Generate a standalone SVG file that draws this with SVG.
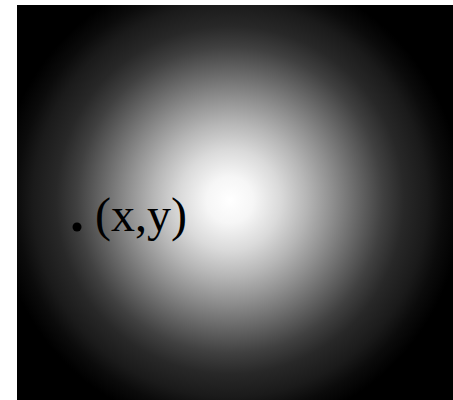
<svg xmlns="http://www.w3.org/2000/svg" width="453" height="400" viewBox="0 0 453 400">
<defs>
<radialGradient id="glow" gradientUnits="userSpaceOnUse" cx="230" cy="200" r="232">
<stop offset="0" stop-color="#ffffff"/>
<stop offset="0.1" stop-color="#f6f6f6"/>
<stop offset="0.217" stop-color="#dadada"/>
<stop offset="0.33" stop-color="#b6b6b6"/>
<stop offset="0.435" stop-color="#919191"/>
<stop offset="0.565" stop-color="#626262"/>
<stop offset="0.66" stop-color="#404040"/>
<stop offset="0.75" stop-color="#282828"/>
<stop offset="0.85" stop-color="#1a1a1a"/>
<stop offset="0.92" stop-color="#0b0b0b"/>
<stop offset="1" stop-color="#000000"/>
</radialGradient>
<style>.lbl{font-family:"Liberation Serif","Times New Roman",serif;font-size:48px;fill:#000}</style>
</defs>
<rect width="453" height="400" fill="#ffffff"/>
<rect id="field" x="17" y="5" width="436" height="395" fill="url(#glow)"/>
<g id="point">
<circle cx="77" cy="227" r="4.5" fill="#000"/>
<text class="lbl" x="95" y="231">(x,y)</text>
</g>
</svg>
